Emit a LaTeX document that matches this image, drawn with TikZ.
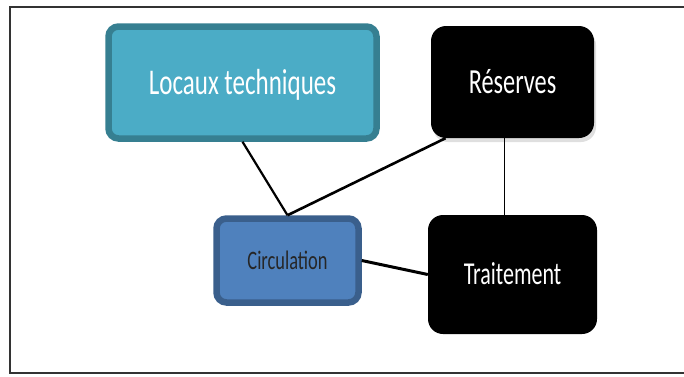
\documentclass[tikz,border=0pt]{standalone}
\usepackage{fontspec}
\setmainfont{Carlito}
\usepackage{graphicx}
\usetikzlibrary{positioning, shadows}
\definecolor{aqua}{HTML}{4BACC6}
\definecolor{aquadark}{HTML}{367F91}
\definecolor{steel}{HTML}{4F81BD}
\definecolor{steeldark}{HTML}{3A5F8C}
\definecolor{framegray}{HTML}{333333}
\newcommand{\tall}[1]{\scalebox{1}[1.45]{#1}}

\begin{document}
\begin{tikzpicture}[
  x=1pt, y=-1pt,
  every node/.style={align=center, inner sep=0pt},
  room/.style n args={2}{
    rectangle, fill=#1, draw=#2, line width=6.5pt, rounded corners=10pt
  },
  store/.style={
    rectangle, fill=black, rounded corners=15pt
  },
  lbl/.style n args={3}{
    font=\fontsize{#1}{#1}\selectfont, text height=#2, text depth=0pt, text=#3
  },
  link/.style={line width=2.2pt, color=black}
]
\useasboundingbox (0,0) rectangle (684,376);

%% frame (open on the right)
\draw[framegray, line width=1.5pt] (684,7) -- (10,7) -- (10,373) -- (684,373);

%% === ROOMS ===
\node[room={aqua}{aquadark}, lbl={25pt}{23.3pt}{white},
      minimum width=268pt, minimum height=112pt] (loc) at (242.5,82.5) {\tall{Locaux techniques}};
\node[store, lbl={24.3pt}{22.7pt}{white},
      drop shadow={opacity=0.25, shadow xshift=2pt, shadow yshift=-4pt},
      minimum width=163pt, minimum height=112pt] (res) at (512.5,82) {\tall{Réserves}};
\node[room={steel}{steeldark}, lbl={18.4pt}{17.2pt}{black!85},
      minimum width=142pt, minimum height=84pt] (circ) at (287.5,260.5) {\tall{Circulation}};
\node[store, lbl={22pt}{20.5pt}{white},
      minimum width=169pt, minimum height=119pt] (trt) at (512.5,274.5) {\tall{Traitement}};

%% === LINKS ===
\draw[link] (loc.south) -- (circ.north);
\draw[link, line width=2.6pt] (res.220) -- (circ.north);
\draw[link, line width=1.7pt] (res.262) -- (res.262 |- trt.north);
\draw[link, line width=3pt] (circ.east) -- (trt.west);

\end{tikzpicture}
\end{document}
